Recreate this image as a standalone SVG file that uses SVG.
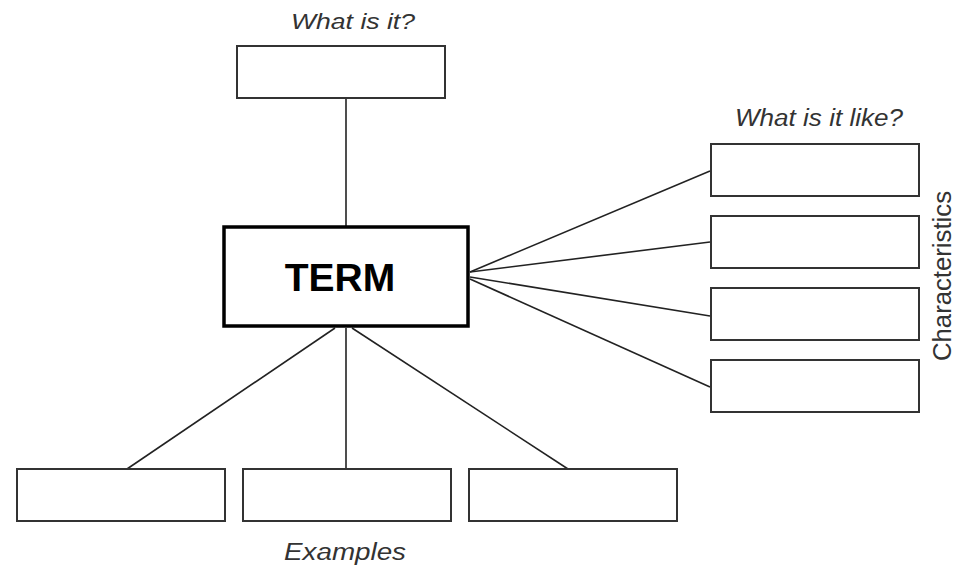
<svg xmlns="http://www.w3.org/2000/svg" width="961" height="568" viewBox="0 0 961 568">
<style>
.box{fill:#fff;stroke:#333;stroke-width:2}
.term{fill:#fff;stroke:#000;stroke-width:3.5}
.ln{stroke:#222;stroke-width:1.6;fill:none}
.lab{font-family:"Liberation Sans",Arial,sans-serif;font-style:italic;fill:#333}
</style>
<rect width="961" height="568" fill="#fff"/>
<g id="connectors">
<line class="ln" x1="346" y1="98" x2="346" y2="227"/>
<line class="ln" x1="470" y1="272" x2="710" y2="171"/>
<line class="ln" x1="470" y1="272" x2="710" y2="242"/>
<line class="ln" x1="470" y1="277" x2="710" y2="316"/>
<line class="ln" x1="470" y1="279" x2="710" y2="387"/>
<line class="ln" x1="335" y1="328" x2="127" y2="469"/>
<line class="ln" x1="346" y1="328" x2="346" y2="469"/>
<line class="ln" x1="352" y1="328" x2="568" y2="469"/>
</g>
<g id="label-what">
<text class="lab" x="353" y="29" font-size="22" text-anchor="middle" textLength="124" lengthAdjust="spacingAndGlyphs">What is it?</text>
</g>
<g id="node-definition"><rect class="box" x="237" y="46" width="208" height="52"/></g>
<g id="node-term">
<rect class="term" x="224" y="227" width="244" height="99"/>
<text x="340" y="291" font-family="Liberation Sans,Arial,sans-serif" font-weight="bold" font-size="39" text-anchor="middle" fill="#000">TERM</text>
</g>
<g id="label-like">
<text class="lab" x="819" y="126" font-size="23" text-anchor="middle" textLength="168" lengthAdjust="spacingAndGlyphs">What is it like?</text>
</g>
<g id="node-char1"><rect class="box" x="711" y="144" width="208" height="52"/></g>
<g id="node-char2"><rect class="box" x="711" y="216" width="208" height="52"/></g>
<g id="node-char3"><rect class="box" x="711" y="288" width="208" height="52"/></g>
<g id="node-char4"><rect class="box" x="711" y="360" width="208" height="52"/></g>
<g id="label-characteristics">
<text x="0" y="0" transform="translate(951,276) rotate(-90)" font-family="Liberation Sans,Arial,sans-serif" font-size="26" fill="#333" text-anchor="middle" textLength="170" lengthAdjust="spacingAndGlyphs">Characteristics</text>
</g>
<g id="node-ex1"><rect class="box" x="17" y="469" width="208" height="52"/></g>
<g id="node-ex2"><rect class="box" x="243" y="469" width="208" height="52"/></g>
<g id="node-ex3"><rect class="box" x="469" y="469" width="208" height="52"/></g>
<g id="label-examples">
<text class="lab" x="345" y="560" font-size="23" text-anchor="middle" textLength="122" lengthAdjust="spacingAndGlyphs">Examples</text>
</g>
</svg>
